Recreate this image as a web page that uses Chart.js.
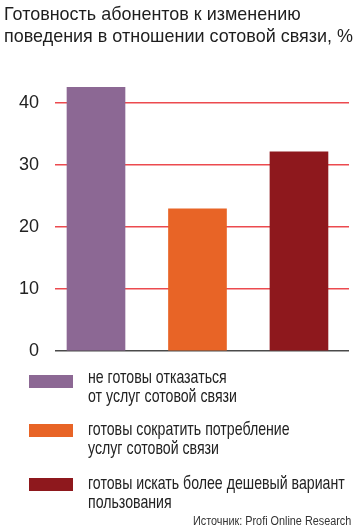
<!DOCTYPE html>
<html>
<head>
<meta charset="utf-8">
<script src="https://cdn.jsdelivr.net/npm/chart.js@4.4.1/dist/chart.umd.min.js"></script>
<style>
  html, body { margin: 0; padding: 0; background: #fff; }
  body { width: 360px; height: 530px; position: relative; overflow: hidden;
         font-family: "Liberation Sans", Arial, sans-serif; color: #222; }
  #c { position: absolute; left: 0; top: 0; }
  .fit { position: absolute; white-space: nowrap; transform-origin: 0 0; }
  #title { left: 4px; top: 3px; font-size: 19px; line-height: 22px; color: #1e1e1e; }
  #title div { white-space: nowrap; }
  .item { position: absolute; left: 0; width: 360px; height: 1px; }
  .sw { position: absolute; left: 29px; top: 0; width: 44px; height: 13px; }
  .txt { position: absolute; left: 88px; top: -5px; font-size: 19px; line-height: 19px; white-space: nowrap; transform-origin: 0 0; }
  .item:nth-child(1) { top: 375px; }
  .item:nth-child(1) .txt { top: -8px; }
  .item:nth-child(2) { top: 424px; }
  .item:nth-child(3) { top: 478px; }
  #source { position: absolute; top: 514px; font-size: 12px; line-height: 14px; white-space: nowrap; color: #333; transform-origin: 0 0; }
</style>
</head>
<body>
<canvas id="c" width="360" height="376"></canvas>
<div id="title" class="fit"></div>
<div id="legend"></div>
<div id="source"></div>
<script>
const titleLines = ['Готовность абонентов к изменению', 'поведения в отношении сотовой связи, %'];
const categories = [
  ['не готовы отказаться', 'от услуг сотовой связи'],
  ['готовы сократить потребление', 'услуг сотовой связи'],
  ['готовы искать более дешевый вариант', 'пользования']
];
const values = [42.5, 22.9, 32.1];
const colors = ['#8c6894', '#e86426', '#8e181d'];
const yTicks = [0, 10, 20, 30, 40];
const sourceText = 'Источник: Profi Online Research';

const FONT = '"Liberation Sans", Arial, sans-serif';

new Chart(document.getElementById('c'), {
  type: 'bar',
  data: {
    datasets: [{
      data: values.map((v, i) => ({ x: i, y: v })),
      backgroundColor: colors,
      borderWidth: 0,
      barThickness: 58
    }]
  },
  options: {
    responsive: false,
    animation: false,
    layout: { padding: { left: 0, right: 11, top: 78, bottom: 0 } },
    plugins: {
      legend: { display: false },
      tooltip: { enabled: false },
      title: { display: false }
    },
    scales: {
      x: {
        type: 'linear',
        offset: false,
        min: -0.404,
        max: 2.493,
        display: false,
        grid: { display: false }
      },
      y: {
        min: 0,
        max: 44,
        afterBuildTicks: (s) => { s.ticks = yTicks.map(v => ({ value: v })); },
        afterFit: (s) => { s.width = 55; },
        border: { display: false },
        grid: {
          drawTicks: false,
          color: (c) => c.tick && c.tick.value === 0 ? '#4a4a4a' : '#ec4a4f',
          lineWidth: 1.5
        },
        ticks: {
          padding: 16,
          color: '#222',
          font: { family: FONT, size: 18, lineHeight: 1 }
        }
      }
    }
  }
});

// Title
const titleEl = document.getElementById('title');
titleLines.forEach(t => { const d = document.createElement('div'); d.textContent = t; titleEl.appendChild(d); });
function fitX(el, w) { const n = el.scrollWidth; el.style.transform = 'scaleX(' + (w / n) + ')'; return w / n; }
fitX(titleEl, 349);

// Legend
const leg = document.getElementById('legend');
const txts = [];
categories.forEach((lines, i) => {
  const it = document.createElement('div');
  it.className = 'item';
  const sw = document.createElement('div');
  sw.className = 'sw';
  sw.style.background = colors[i];
  const tx = document.createElement('div');
  tx.className = 'txt';
  tx.innerHTML = lines.join('<br>');
  it.appendChild(sw); it.appendChild(tx);
  leg.appendChild(it);
  txts.push(tx);
});
const s = 257 / txts[2].scrollWidth;
txts.forEach(t => { t.style.transform = 'scaleX(' + s + ')'; });

// Source
const src = document.getElementById('source');
src.textContent = sourceText;
const ss = 158 / src.scrollWidth;
src.style.left = (351 - 158) + 'px';
src.style.transform = 'scaleX(' + ss + ')';
</script>
</body>
</html>
